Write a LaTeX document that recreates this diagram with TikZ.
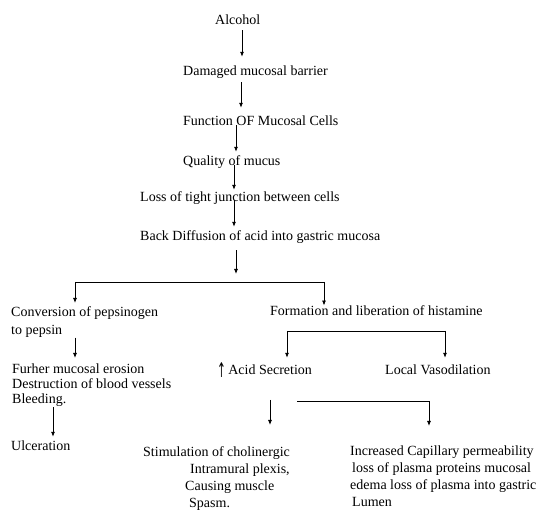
\documentclass[tikz,border=0pt]{standalone}
\usepackage{fontspec}
\setmainfont{Liberation Serif}
\newfontfamily\symfont{DejaVu Sans}
\usetikzlibrary{arrows.meta}

\begin{document}
\begin{tikzpicture}[
  x=1pt, y=-1pt,
  font=\fontsize{14}{17}\selectfont,
  txt/.style={anchor=west, inner sep=0pt, text height=9.5pt, text depth=3pt},
  blk/.style={anchor=north west, inner sep=0pt, align=left},
  arrow/.style={-{Latex[length=5pt,width=4pt]}, line width=0.8pt},
  bar/.style={line width=0.8pt}
]
\useasboundingbox (0,0) rectangle (547,510);

% main chain
\node[txt] (Alc) at (215,21) {Alcohol};
\node[txt] (Barrier) at (183,72) {Damaged mucosal barrier};
\node[txt] (Func) at (183,122) {Function OF Mucosal Cells};
\node[txt] (Mucus) at (183,162) {Quality of mucus};
\node[txt] (Tight) at (140,198) {Loss of tight junction between cells};
\node[txt] (Back) at (140,237) {Back Diffusion of acid into gastric mucosa};

% two branches
\node[blk, font=\fontsize{14}{18.5}\selectfont] (Pepsin) at (11,306) {Conversion of pepsinogen\\to pepsin};
\node[txt] (Hist) at (270,312) {Formation and liberation of histamine};
\node[blk, font=\fontsize{14}{15}\selectfont] (Erosion) at (12,364) {Furher mucosal erosion\\Destruction of blood vessels\\Bleeding.};
\node[txt] (Ulcer) at (11,447) {Ulceration};
\node[txt] (Acid) at (217,371) {\raisebox{-3pt}{\scalebox{0.75}[1.45]{\symfont ↑}}\,Acid Secretion};
\node[txt] (Vaso) at (385,371) {Local Vasodilation};
\node[blk] (Stim) at (143,446) {Stimulation of cholinergic\\\hspace*{47pt}Intramural plexis,\\\hspace*{42pt}Causing muscle\\\hspace*{46pt}Spasm.};
\node[blk] (Perm) at (350,446) {Increased Capillary permeability\\\hspace*{2pt}loss of plasma proteins mucosal\\edema loss of plasma into gastric\\\hspace*{2pt}Lumen};

\coordinate (Fork) at (236,274);
\coordinate (BarL) at (75,282);
\coordinate (BarR) at (324,282);
\coordinate (HistL) at (287,331);
\coordinate (HistR) at (445,331);
\coordinate (AcidDn) at (270,400);
\coordinate (VasoL) at (297,401);
\coordinate (VasoR) at (429,401);

\draw[arrow, shorten <=2.75pt, shorten >=8.75pt] ([xshift=27pt]Alc.south west) -- ([xshift=27pt]Alc.south west |- Barrier.north);
\draw[arrow, shorten <=3.75pt, shorten >=7.75pt] ([xshift=58pt]Barrier.south west) -- ([xshift=58pt]Barrier.south west |- Func.north);
\draw[arrow, shorten <=-3pt, shorten >=3.75pt] ([xshift=53pt]Func.south west) -- ([xshift=53pt]Func.south west |- Mucus.north);
\draw[arrow, shorten <=-3pt, shorten >=1.75pt] ([xshift=51pt]Mucus.south west) -- ([xshift=51pt]Mucus.south west |- Tight.north);
\draw[arrow, shorten <=-4pt, shorten >=3.75pt] ([xshift=94pt]Tight.south west) -- ([xshift=94pt]Tight.south west |- Back.north);
\draw[arrow, shorten <=6.75pt] (Back.south -| Fork) -- (Fork);

\draw[bar] (BarL) -- (BarR);
\draw[arrow, shorten >=3pt] (BarL) -- (BarL |- Pepsin.north);
\draw[arrow] (BarR) -- (BarR |- Hist.north);
\draw[arrow, shorten >=6pt] (Pepsin.south -| BarL) -- (Erosion.north -| BarL);
\draw[arrow, shorten >=3.75pt] ([xshift=41pt]Erosion.south west) -- ([xshift=41pt]Erosion.south west |- Ulcer.north);

\draw[bar] (HistL) -- (HistR);
\draw[arrow, shorten >=6.75pt] (HistL) -- (HistL |- Acid.north);
\draw[arrow, shorten >=6.75pt] (HistR) -- (HistR |- Vaso.north);

\draw[arrow, shorten >=21pt] (AcidDn) -- (AcidDn |- Stim.north);
\draw[arrow, shorten >=20pt] (VasoL) -- (VasoR) -- (VasoR |- Perm.north);
\end{tikzpicture}
\end{document}
